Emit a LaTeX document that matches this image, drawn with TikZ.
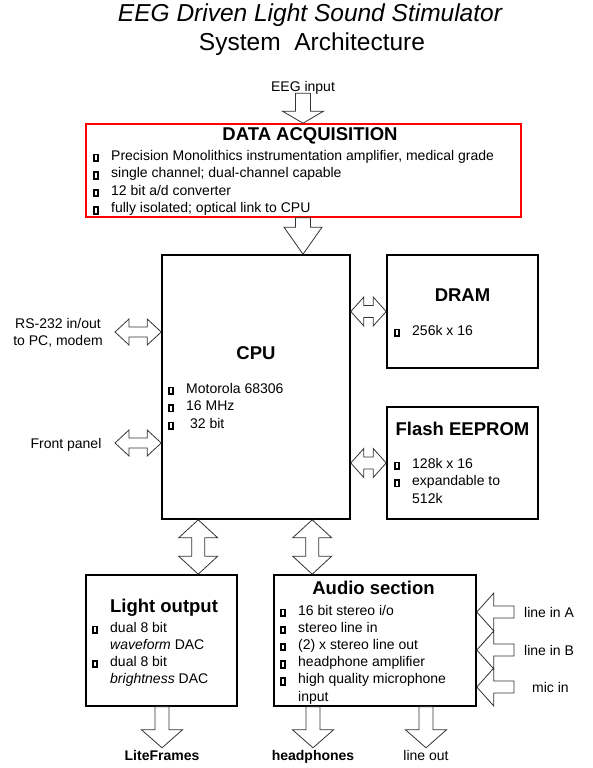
\documentclass[tikz,border=0pt]{standalone}
\usepackage{fontspec}
\setmainfont{Liberation Sans}
\usetikzlibrary{calc}

% small box used as the list bullet
\newcommand\bltbox{{\setlength\fboxsep{0pt}\setlength\fboxrule{1.9pt}\fbox{\rule{0pt}{4.6pt}\hspace{1.6pt}}}}
\newcommand\blt{\makebox[18pt][l]{\bltbox}}
\newcommand\nob{\hspace*{18pt}}

\tikzset{
  headlen/.store in=\ahl, headw/.store in=\ahw, stemw/.store in=\asw,
  headlen=18pt, headw=20pt, stemw=7pt,
  arr/.style={draw=black!80, line width=0.8pt, line join=miter},
  bigarr/.style={arr, to path={
    let \p1=($(\tikztotarget)-(\tikztostart)$),
        \n1={veclen(\x1,\y1)}, \n2={atan2(\y1,\x1)} in
    {[shift={(\tikztostart)}, rotate=\n2]
      (0pt,\asw) -- ({\n1-\ahl},\asw) -- ({\n1-\ahl},\ahw) -- ({\n1+0pt},0pt)
      -- ({\n1-\ahl},{-\ahw}) -- ({\n1-\ahl},{-\asw}) -- (0pt,{-\asw}) -- cycle}}},
  dbigarr/.style={arr, to path={
    let \p1=($(\tikztotarget)-(\tikztostart)$),
        \n1={veclen(\x1,\y1)}, \n2={atan2(\y1,\x1)} in
    {[shift={(\tikztostart)}, rotate=\n2]
      (0pt,0pt) -- (\ahl,\ahw) -- (\ahl,\asw) -- ({\n1-\ahl},\asw) -- ({\n1-\ahl},\ahw)
      -- ({\n1+0pt},0pt) -- ({\n1-\ahl},{-\ahw}) -- ({\n1-\ahl},{-\asw})
      -- (\ahl,{-\asw}) -- (\ahl,{-\ahw}) -- cycle}}},
}

\begin{document}
\begin{tikzpicture}[
  x=1pt, y=-1pt,
  lbl/.style={font=\fontsize{14}{17}\selectfont, inner sep=2pt, text height=10pt, text depth=0pt},
  hdr/.style={font=\fontsize{18.5}{21}\selectfont\bfseries, inner sep=0pt, text height=13pt, text depth=0pt},
  item/.style={anchor=west, inner sep=0pt, font=\fontsize{14}{17}\selectfont, text height=10pt, text depth=0pt},
  blk/.style={draw, line width=1.6pt, inner sep=0pt}
]
  \useasboundingbox (0,0) rectangle (592,768);

  % Title
  \node[font=\fontsize{24.5}{28}\selectfont\itshape, inner sep=0pt, text height=17.5pt, text depth=0pt]
    (title) at (310,13) {EEG Driven Light Sound Stimulator};
  \node[font=\fontsize{24.5}{28}\selectfont, inner sep=0pt, text height=17.5pt, text depth=0pt]
    (subtitle) at (312,42) {System\ \ Architecture};

  % Blocks
  \node[blk, draw=red, minimum width=435, minimum height=93] (daq) at (303.5,170.5) {};
  \node[blk, minimum width=188, minimum height=264] (cpu) at (256,387) {};
  \node[blk, minimum width=151, minimum height=113] (dram) at (462.5,311.5) {};
  \node[blk, minimum width=151, minimum height=112] (flash) at (462.5,463) {};
  \node[blk, minimum width=151, minimum height=131] (light) at (161.5,640.5) {};
  \node[blk, minimum width=202, minimum height=131] (audio) at (375,640.5) {};

  % Data acquisition
  \node[hdr] (daqt) at (310,134) {DATA ACQUISITION};
  \foreach \t [count=\i from 0] in {{\blt Precision Monolithics instrumentation amplifier, medical grade},
      {\blt single channel; dual-channel capable}, {\blt 12 bit a/d converter},
      {\blt fully isolated; optical link to CPU}}
    \node[item] (daqi\i) at (93,155+17.6*\i) {\t};

  % CPU
  \node[hdr] (cput) at (256,353) {CPU};
  \foreach \t [count=\i from 0] in {{\blt Motorola 68306}, {\blt 16 MHz}, {\blt\ 32 bit}}
    \node[item] (cpui\i) at (168,388+17.5*\i) {\t};

  % Memory
  \node[hdr] (dramt) at (462.5,295) {DRAM};
  \node[item] (drami0) at (394,330) {\blt 256k x 16};
  \node[hdr] (flasht) at (462.5,428.5) {Flash EEPROM};
  \foreach \t [count=\i from 0] in {{\blt 128k x 16}, {\blt expandable to}, {\nob 512k}}
    \node[item] (flashi\i) at (394,463+17.5*\i) {\t};

  % Light output
  \node[hdr] (lightt) at (164,606) {Light output};
  \foreach \t [count=\i from 0] in {{\blt dual 8 bit}, {\nob\textit{waveform} DAC},
      {\blt dual 8 bit}, {\nob\textit{brightness} DAC}}
    \node[item] (lighti\i) at (92,627+17.2*\i) {\t};

  % Audio section
  \node[hdr] (audiot) at (373.5,588) {Audio section};
  \foreach \t [count=\i from 0] in {{\blt 16 bit stereo i/o}, {\blt stereo line in},
      {\blt (2) x stereo line out}, {\blt headphone amplifier},
      {\blt high quality microphone}, {\nob input}}
    \node[item] (audioi\i) at (280,610+17.2*\i) {\t};

  % EEG input and link to CPU
  \node[lbl] (eeg) at (303,86) {EEG input};
  \draw[bigarr, headlen=12pt, headw=20.5pt, stemw=7.5pt] (eeg.south) to (eeg.south |- daq.north);
  \draw[bigarr, headlen=27pt, headw=19pt, stemw=7.5pt] (daq.south -| eeg.south) to (eeg.south |- cpu.north);

  % CPU side ports
  \node[font=\fontsize{14}{17}\selectfont, align=center, inner sep=0pt] (rs) at (58,333) {RS-232 in/out\\to PC, modem};
  \node[lbl] (fp) at (66,443) {Front panel};
  \coordinate (rsend) at (115,332);
  \coordinate (fpend) at (115,443);
  \draw[dbigarr, headlen=14pt, headw=13pt, stemw=5pt] (rsend) to (rsend -| cpu.west);
  \draw[dbigarr, headlen=14pt, headw=13pt, stemw=5pt] (fpend) to (fpend -| cpu.west);

  % CPU to memory
  \draw[dbigarr, headlen=13pt, headw=14.5pt, stemw=6pt] (cpu.east |- dram.west) to (dram.west);
  \draw[dbigarr, headlen=13pt, headw=14.5pt, stemw=6pt] (cpu.east |- flash.west) to (flash.west);

  % CPU to outputs
  \coordinate (lbus) at ([xshift=37pt]cpu.south west);
  \coordinate (abus) at ([xshift=39pt]audio.north west);
  \draw[dbigarr, headlen=18pt, headw=19.5pt, stemw=6.5pt] (lbus) to (lbus |- light.north);
  \draw[dbigarr, headlen=18pt, headw=19.5pt, stemw=6.5pt] (abus |- cpu.south) to (abus);

  % Outputs
  \node[lbl, font=\fontsize{14}{17}\selectfont\bfseries] (lite) at (162,755) {LiteFrames};
  \node[lbl, font=\fontsize{14}{17}\selectfont\bfseries] (hp) at (313,755) {headphones};
  \node[lbl] (lout) at (426,755) {line out};
  \draw[bigarr, headlen=18pt, headw=20.5pt, stemw=7pt] (lite.north |- light.south) to (lite.north);
  \draw[bigarr, headlen=18pt, headw=20.5pt, stemw=7pt] (hp.north |- audio.south) to (hp.north);
  \draw[bigarr, headlen=18pt, headw=20.5pt, stemw=7pt] (lout.north |- audio.south) to (lout.north);

  % Audio inputs
  \node[lbl, anchor=west] (lina) at (522,612) {line in A};
  \node[lbl, anchor=west] (linb) at (522,650) {line in B};
  \node[lbl, anchor=west] (mic) at (530,687) {mic in};
  \foreach \y/\c in {612/ina, 650/inb, 687/inm} {
    \coordinate (\c) at (514,\y);
    \draw[bigarr, headlen=17pt, headw=19pt, stemw=6pt] (\c) to (\c -| audio.east);
  }
\end{tikzpicture}
\end{document}
